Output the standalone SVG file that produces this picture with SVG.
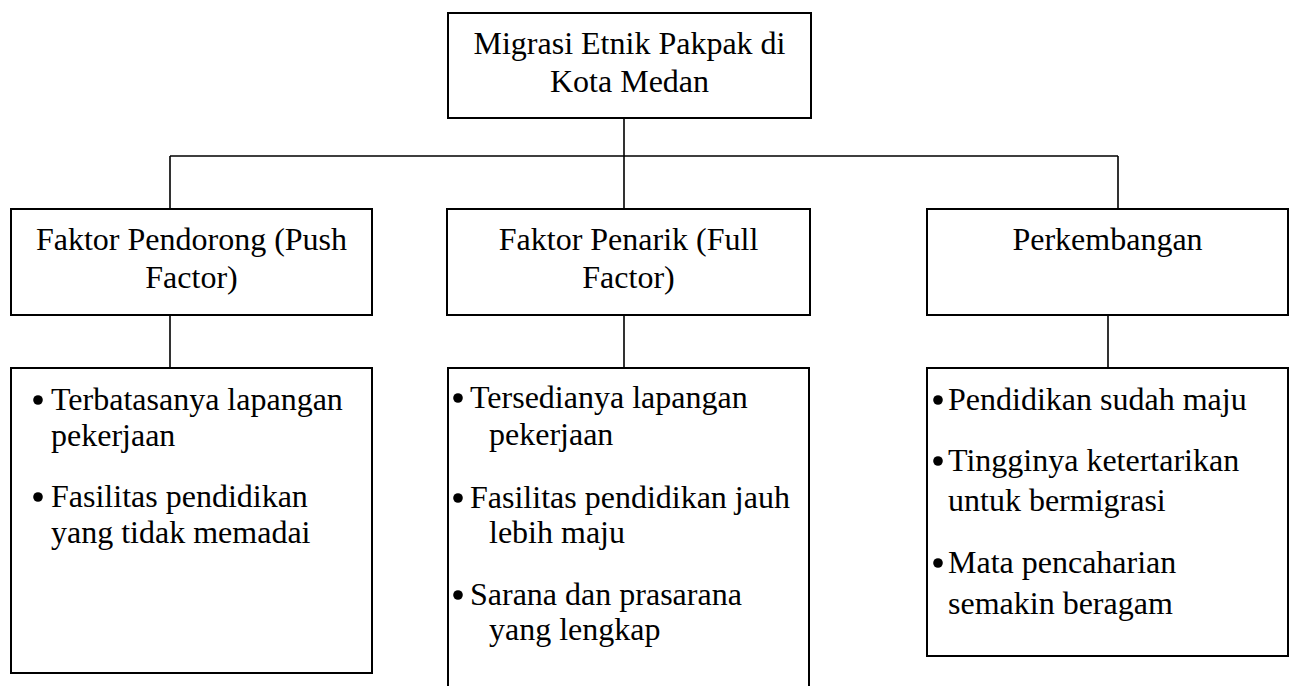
<svg xmlns="http://www.w3.org/2000/svg" width="1294" height="686" viewBox="0 0 1294 686">
<style>
.box{fill:#fff;stroke:#000;stroke-width:2}
.ln{fill:none;stroke:#000;stroke-width:1.6}
.t{font-family:'Liberation Serif','Times New Roman',Times,serif;font-size:32px;fill:#000}
.c{text-anchor:middle}
.b{fill:#000}
</style>
<rect width="1294" height="686" fill="#fff"/>
<g id="connectors">
<path class="ln" d="M624 118V209M170 156H1118M170 156V209M1118 156V209M170 315V368M624 315V368M1108 315V368"/>
</g>
<g class="t">
<g id="root">
<rect class="box" x="448" y="13" width="363" height="105"/>
<text class="c" x="629.5" y="54">Migrasi Etnik Pakpak di</text>
<text class="c" x="629.5" y="92">Kota Medan</text>
</g>
<g id="push">
<rect class="box" x="11" y="209" width="361" height="106"/>
<text class="c" x="191.5" y="250">Faktor Pendorong (Push</text>
<text class="c" x="191.5" y="288">Factor)</text>
</g>
<g id="pull">
<rect class="box" x="447" y="209" width="363" height="106"/>
<text class="c" x="628.5" y="250">Faktor Penarik (Full</text>
<text class="c" x="628.5" y="288">Factor)</text>
</g>
<g id="perkembangan">
<rect class="box" x="927" y="209" width="361" height="106"/>
<text class="c" x="1107.5" y="250">Perkembangan</text>
</g>
<g id="push-list">
<rect class="box" x="11" y="368" width="361" height="305"/>
<circle class="b" cx="38" cy="400" r="4.8"/>
<text x="51" y="410">Terbatasanya lapangan</text>
<text x="51" y="446">pekerjaan</text>
<circle class="b" cx="38" cy="497" r="4.8"/>
<text x="51" y="507">Fasilitas pendidikan</text>
<text x="51" y="543">yang tidak memadai</text>
</g>
<g id="pull-list">
<rect class="box" x="448" y="368" width="361" height="330"/>
<circle class="b" cx="458" cy="398" r="4.8"/>
<text x="470" y="408">Tersedianya lapangan</text>
<text x="489" y="445">pekerjaan</text>
<circle class="b" cx="458" cy="498" r="4.8"/>
<text x="470" y="508">Fasilitas pendidikan jauh</text>
<text x="489" y="543">lebih maju</text>
<circle class="b" cx="458" cy="595" r="4.8"/>
<text x="470" y="605">Sarana dan prasarana</text>
<text x="489" y="640">yang lengkap</text>
</g>
<g id="perkembangan-list">
<rect class="box" x="927" y="368" width="361" height="288"/>
<circle class="b" cx="938" cy="400" r="4.8"/>
<text x="948" y="410">Pendidikan sudah maju</text>
<circle class="b" cx="938" cy="461" r="4.8"/>
<text x="948" y="471">Tingginya ketertarikan</text>
<text x="948" y="511">untuk bermigrasi</text>
<circle class="b" cx="938" cy="563" r="4.8"/>
<text x="948" y="573">Mata pencaharian</text>
<text x="948" y="614">semakin beragam</text>
</g>
</g>
</svg>
